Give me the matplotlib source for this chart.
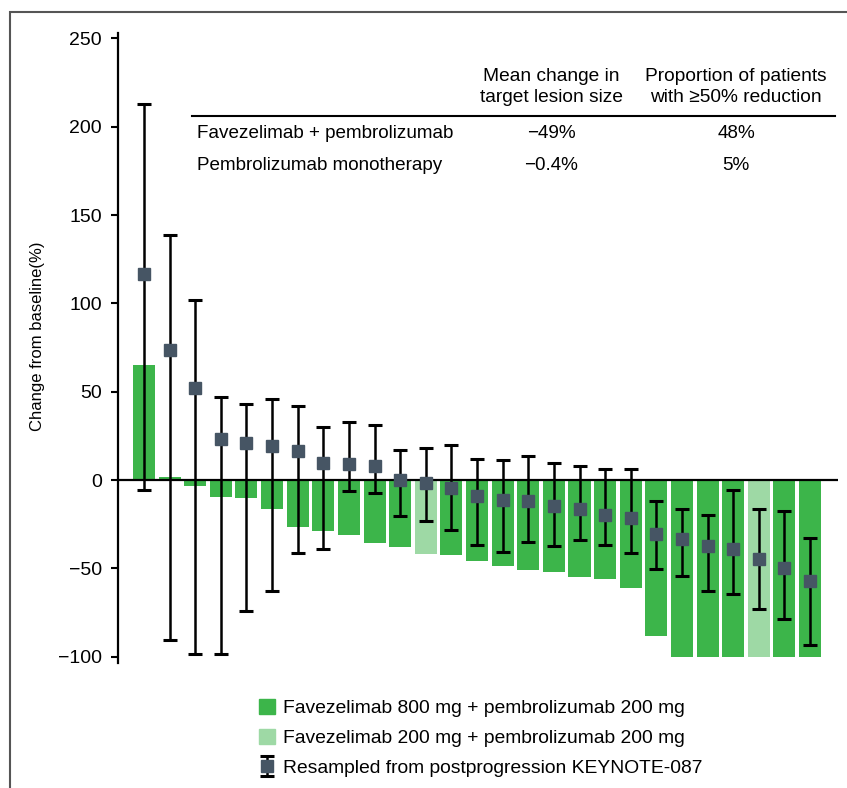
import matplotlib
matplotlib.use('Agg')
import matplotlib.pyplot as plt
import matplotlib.patches as mpatches
import numpy as np

plt.rcParams['font.family'] = ['Liberation Sans', 'DejaVu Sans']

# tumour change per patient (bars), light = 200 mg dose
change = [65.4, 1.7, -3.2, -9.4, -10.2, -16.2, -26.4, -28.6, -31.0, -35.6, -37.8,
          -41.6, -42.4, -45.8, -48.6, -50.8, -52.0, -54.8, -55.9, -61.0, -88.1,
          -100, -100, -100, -100, -100, -100]
dose_200 = [11, 24]

# resampled from KEYNOTE-087 (square + whiskers)
resamp_mean = [116.8, 73.4, 52.2, 23.2, 20.9, 19.4, 16.6, 9.6, 9.2, 7.9, 0.0,
               -1.7, -4.3, -9.0, -11.3, -11.9, -14.7, -16.4, -19.8, -21.5, -30.5,
               -33.3, -37.3, -39.0, -44.6, -49.7, -57.1]
resamp_high = [212.9, 138.8, 102.1, 47.3, 43.3, 46.1, 42.2, 29.8, 32.6, 31.4, 17.3,
               17.9, 19.6, 12.2, 11.1, 13.4, 9.4, 7.7, 6.0, 6.0, -12.1,
               -16.6, -20.0, -5.8, -16.6, -17.7, -32.9]
resamp_low = [-5.8, -90.6, -98.5, -98.5, -74.2, -62.9, -41.4, -39.2, -6.2, -7.5, -20.5,
              -23.4, -28.4, -36.9, -40.7, -35.0, -37.5, -34.1, -36.5, -41.0, -50.5,
              -54.0, -62.9, -64.6, -73.1, -78.7, -93.2]

table_cols = ['Mean change in\ntarget lesion size', 'Proportion of patients\nwith \u226550% reduction']
table_rows = ['Favezelimab + pembrolizumab', 'Pembrolizumab monotherapy']
table_vals = [['\u221249%', '48%'], ['\u22120.4%', '5%']]

legend_labels = ['Favezelimab 800 mg + pembrolizumab 200 mg',
                 'Favezelimab 200 mg + pembrolizumab 200 mg',
                 'Resampled from postprogression KEYNOTE-087']

green = '#3cb54a'
light_green = '#9ed9a5'
marker_col = '#465564'

W, H = 847, 788
fig = plt.figure(figsize=(W / 100, H / 100), dpi=100)
ax = fig.add_axes([118 / W, 1 - 663 / H, (838 - 118) / W, (663 - 33) / H])

x = np.arange(len(change))
colors = [light_green if i in dose_200 else green for i in x]
ax.bar(x, change, width=0.86, color=colors, zorder=1)
ax.axhline(0, color='black', lw=1.6, zorder=2)

mean = np.array(resamp_mean)
yerr = [mean - np.array(resamp_low), np.array(resamp_high) - mean]
eb = ax.errorbar(x, mean, yerr=yerr, fmt='s', color=marker_col, markersize=8.5,
                 ecolor='black', elinewidth=1.8, capsize=4.7, capthick=2.2, zorder=3)

ax.set_xlim(-1.015, 27.09)
ax.set_ylim(-103.5, 253)
ax.set_yticks([-100, -50, 0, 50, 100, 150, 200, 250])
ax.set_yticklabels(['\u2212100', '\u221250', '0', '50', '100', '150', '200', '250'])
ax.tick_params(axis='y', length=5, width=1.5, pad=6.5, labelsize=14)
ax.set_xticks([])
for s in ['top', 'right', 'bottom']:
    ax.spines[s].set_visible(False)
ax.spines['left'].set_linewidth(1.6)

fig.text(38 / W, 1 - 336 / H, 'Change from baseline(%)', rotation=90, ha='center', va='center',
         fontsize=12)

# summary table
col_x = [551, 736]
for cx, label in zip(col_x, table_cols):
    fig.text(cx / W, 1 - 87 / H, label, ha='center', va='center', fontsize=13.8, linespacing=1.35)
fig.add_artist(plt.Line2D([192 / W, 835 / W], [1 - 116 / H, 1 - 116 / H], color='black', lw=1.5))
for ry, name, vals in zip([134, 165], table_rows, table_vals):
    fig.text(197 / W, 1 - ry / H, name, ha='left', va='center', fontsize=13.6)
    for cx, v in zip(col_x, vals):
        fig.text(cx / W, 1 - ry / H, v, ha='center', va='center', fontsize=13.6)

# frame around the panel
fig.add_artist(mpatches.Rectangle((10 / W, -0.1), 1.2, 1 - 12 / H + 0.1, fill=False,
                                  edgecolor='#555555', lw=1.5))

handles = [mpatches.Patch(color=green), mpatches.Patch(color=light_green), eb]
fig.legend(handles, legend_labels, loc='upper left', bbox_to_anchor=(259 / W, 1 - 699 / H),
           frameon=False, fontsize=13.9, handlelength=0.85, handleheight=0.85,
           handletextpad=0.4, labelspacing=0.6, borderpad=0, borderaxespad=0)

fig.savefig('out.png', dpi=100)
